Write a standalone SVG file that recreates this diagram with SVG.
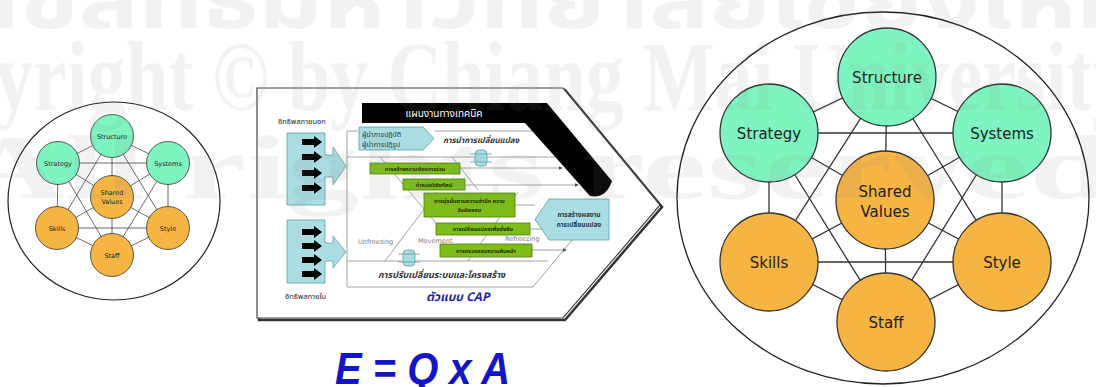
<svg xmlns="http://www.w3.org/2000/svg" width="1096" height="387" viewBox="0 0 1096 387">
<defs>
<style>
.s7l{stroke:#333;stroke-width:1.3;fill:none}
.s7s{stroke:#444;stroke-width:0.8;fill:none}
.g{fill:#7ef5c0;stroke:#333;stroke-width:1.3}
.o{fill:#f6b443;stroke:#333;stroke-width:1.3}
.gs{fill:#7ef5c0;stroke:#333;stroke-width:0.8}
.os{fill:#f6b443;stroke:#333;stroke-width:0.8}
.tl{font-family:"DejaVu Sans",sans-serif;font-size:15px;fill:#222;text-anchor:middle}
.ts{font-family:"DejaVu Sans",sans-serif;font-size:6.5px;fill:#222;text-anchor:middle}
.th{font-family:"Noto Sans Thai","Loma","Garuda","Tahoma","DejaVu Sans",sans-serif}
.gb{fill:#7cbd1a;stroke:#4f7d0c;stroke-width:0.8}
.gt{font-size:5.5px;font-weight:bold;fill:#1c2a00;text-anchor:middle}
.bl{fill:#a9dde2;stroke:#5a9ea8;stroke-width:0.8}
.ln{stroke:#8a8a8a;stroke-width:0.8;fill:none}
.ph{font-family:"DejaVu Sans",sans-serif;font-size:6.5px;fill:#777}
.wm{font-family:"Liberation Serif",serif;font-weight:bold;fill:#8c8c8c;opacity:0.1}
</style>
<marker id="ah" viewBox="0 0 6 6" refX="5" refY="3" markerWidth="4" markerHeight="4" markerUnits="userSpaceOnUse" orient="auto">
<path d="M0,0 L6,3 L0,6 Z" fill="#444"/>
</marker>
<g id="spool">
<rect x="-6" y="-8" width="12" height="16" rx="4" fill="#a9dde2" stroke="#5a9ea8" stroke-width="0.8"/>
<path d="M-11,-4 H11 M-11,4 H11" stroke="#5a9ea8" stroke-width="0.8"/>
</g>
<path id="barrow" d="M0,-3 H12 V-6 L20,0 L12,6 V3 H0 Z" fill="#000"/>
</defs>
<rect width="1096" height="387" fill="#fff"/>

<!-- Small 7S -->
<g id="small-7s">
<ellipse cx="114" cy="201" rx="106" ry="99" fill="#fff" stroke="#222" stroke-width="1.2"/>
<g id="small-connectors" class="s7s">
<path d="M112,136 L168,163 L168,228 L112,255 L57,228 L58,163 Z"/>
<path d="M58,163 L168,163 L112,255 Z"/>
<path d="M112,136 L168,228 L57,228 Z"/>
<path d="M112,197 L112,136 M112,197 L58,163 M112,197 L168,163 M112,197 L57,228 M112,197 L168,228 M112,197 L112,255"/>
</g>
<g id="s-structure"><circle class="gs" cx="112" cy="136" r="21.5"/><text class="ts" x="112" y="138.5">Structure</text></g>
<g id="s-strategy"><circle class="gs" cx="58" cy="163" r="21.5"/><text class="ts" x="58" y="165.5">Strategy</text></g>
<g id="s-systems"><circle class="gs" cx="168" cy="163" r="21.5"/><text class="ts" x="168" y="165.5">Systems</text></g>
<g id="s-shared"><circle class="os" cx="112" cy="197" r="21.5"/><text class="ts" x="112" y="194.5">Shared</text><text class="ts" x="112" y="203.5">Values</text></g>
<g id="s-skills"><circle class="os" cx="57" cy="228" r="21.5"/><text class="ts" x="57" y="230.5">Skills</text></g>
<g id="s-style"><circle class="os" cx="168" cy="228" r="21.5"/><text class="ts" x="168" y="230.5">Style</text></g>
<g id="s-staff"><circle class="os" cx="112" cy="255" r="21.5"/><text class="ts" x="112" y="257.5">Staff</text></g>
</g>

<!-- CAP model -->
<g id="cap-model">
<polygon points="259,90 565,90 662,207 565,320 259,320" fill="none" stroke="#333" stroke-width="2.5"/>
<polygon points="257,88 563,88 660,205 563,318 257,318" fill="#fff" stroke="#444" stroke-width="1.2"/>
<g id="cap-lines" class="ln">
<path d="M358,131 H347 V287 H533 L572,240"/>
<path d="M347,261 H548"/>
<path d="M347,157 H555"/>
<path d="M435,131 H532"/>
<path d="M380,157 L436,223"/>
<path d="M452,157 L478,190"/>
<path d="M385,261 L437,192"/>
<path d="M468,261 L518,192"/>
<path d="M460,168 H562" marker-end="url(#ah)"/>
<path d="M465,185 H578" marker-end="url(#ah)"/>
<path d="M515,205 H535"/>
<path d="M530,229 H543"/>
<path d="M532,250 H566" marker-end="url(#ah)"/>
</g>
<path id="tech-plan" d="M362,103 H547 L612,181 Q606,199 590,196 L525,123 H362 Z" fill="#000"/>
<text class="th" x="444" y="117" font-size="10" fill="#fff" text-anchor="middle">แผนงานทางเทคนิค</text>

<g id="ext-influence">
<path class="bl" d="M287,133 H325 V155 H333 V147 L346,166 L333,185 V177 H325 V205 H287 Z"/>
<use href="#barrow" x="302" y="142"/>
<use href="#barrow" x="302" y="157"/>
<use href="#barrow" x="302" y="173"/>
<use href="#barrow" x="302" y="188"/>
<text class="th" x="278" y="124" font-size="7.5" fill="#222">อิทธิพลภายนอก</text>
</g>
<g id="int-influence">
<path class="bl" d="M287,220 H325 V243 H333 V236 L346,252 L333,268 V261 H325 V283 H287 Z"/>
<use href="#barrow" x="302" y="232"/>
<use href="#barrow" x="302" y="246"/>
<use href="#barrow" x="302" y="260"/>
<use href="#barrow" x="302" y="274"/>
<text class="th" x="285" y="299" font-size="7.5" fill="#222">อิทธิพลภายใน</text>
</g>

<g id="leaders">
<path class="bl" d="M359,127 H423 L434,138.5 L423,150 H359 Z"/>
<text class="th" x="362" y="136.5" font-size="7" fill="#1b3a4a">ผู้นำการปฏิบัติ</text>
<text class="th" x="362" y="146.5" font-size="7" fill="#1b3a4a">ผู้นำการปฏิรูป</text>
</g>
<text class="th" x="443" y="143" font-size="8" font-style="italic" font-weight="bold" fill="#333">การนำการเปลี่ยนแปลง</text>
<use href="#spool" x="481" y="158"/>
<use href="#spool" x="409" y="258"/>

<g id="box1"><rect class="gb" x="370" y="163" width="90" height="11"/><text class="th gt" x="415" y="170.5">การสร้างความต้องการร่วม</text></g>
<g id="box2"><rect class="gb" x="403" y="179" width="62" height="11"/><text class="th gt" x="434" y="186.5">กำหนดวิสัยทัศน์</text></g>
<g id="box3"><rect class="gb" x="424" y="193" width="91" height="24"/><text class="th gt" x="469.5" y="203">การมุ่งมั่นตามความสำนึก ความ</text><text class="th gt" x="469.5" y="212">รับผิดชอบ</text></g>
<g id="box4"><rect class="gb" x="436" y="223" width="94" height="12"/><text class="th gt" x="483" y="231">การเปลี่ยนแปลงเพื่อยั่งยืน</text></g>
<g id="box5"><rect class="gb" x="440" y="244" width="92" height="13"/><text class="th gt" x="486" y="252.5">การตรวจสอบความคืบหน้า</text></g>

<g id="result">
<path class="bl" d="M535,219.5 L549,199 H609 V240 H549 Z"/>
<text class="th" x="579" y="217" font-size="6.5" font-weight="bold" fill="#1b3a4a" text-anchor="middle">การสร้างผลงาน</text>
<text class="th" x="579" y="227" font-size="6.5" font-weight="bold" fill="#1b3a4a" text-anchor="middle">การเปลี่ยนแปลง</text>
</g>

<text class="ph" x="358" y="244">Unfreezing</text>
<text class="ph" x="418" y="243">Movement</text>
<text class="ph" x="505" y="241">Refreezing</text>
<text class="th" x="378" y="278" font-size="9" font-style="italic" font-weight="bold" fill="#333">การปรับเปลี่ยนระบบและโครงสร้าง</text>
<text x="426" y="301" font-family="Noto Sans Thai,Loma,Garuda,Tahoma,Liberation Sans,sans-serif" font-size="12" font-style="italic" font-weight="bold" fill="#2323a8">ตัวแบบ CAP</text>
</g>

<text id="formula" x="335" y="384" font-family="Liberation Sans,Arial,sans-serif" font-size="44" font-weight="bold" font-style="italic" fill="#1515c8" textLength="175" lengthAdjust="spacingAndGlyphs">E = Q x A</text>

<!-- Large 7S -->
<g id="large-7s">
<ellipse cx="883" cy="198" rx="206" ry="186" fill="#fff" stroke="#222" stroke-width="1.3"/>
<g id="large-connectors" class="s7l">
<path d="M887,77 L1002,133 L1002,262 L886,322 L769,262 L769,133 Z"/>
<path d="M769,133 L1002,133 L886,322 Z"/>
<path d="M887,77 L1002,262 L769,262 Z"/>
<path d="M885,200 L887,77 M885,200 L769,133 M885,200 L1002,133 M885,200 L769,262 M885,200 L1002,262 M885,200 L886,322"/>
</g>
<g id="structure"><circle class="g" cx="887" cy="77" r="49"/><text class="tl" x="887" y="83">Structure</text></g>
<g id="strategy"><circle class="g" cx="769" cy="133" r="49"/><text class="tl" x="769" y="139">Strategy</text></g>
<g id="systems"><circle class="g" cx="1002" cy="133" r="49"/><text class="tl" x="1002" y="139">Systems</text></g>
<g id="shared-values"><circle class="o" cx="885" cy="200" r="49"/><text class="tl" x="885" y="197">Shared</text><text class="tl" x="885" y="217">Values</text></g>
<g id="skills"><circle class="o" cx="769" cy="262" r="49"/><text class="tl" x="769" y="268">Skills</text></g>
<g id="style"><circle class="o" cx="1002" cy="262" r="49"/><text class="tl" x="1002" y="268">Style</text></g>
<g id="staff"><circle class="o" cx="886" cy="322" r="49"/><text class="tl" x="886" y="328">Staff</text></g>
</g>

<!-- watermark -->
<g id="watermark">
<text class="th" x="-40" y="28" font-size="80" font-weight="bold" fill="#8c8c8c" opacity="0.1" textLength="1180" lengthAdjust="spacingAndGlyphs">ลิขสิทธิ์มหาวิทยาลัยเชียงใหม่</text>
<text class="wm" x="-140" y="110" font-size="100" textLength="1270" lengthAdjust="spacingAndGlyphs">Copyright © by Chiang Mai University</text>
<text class="wm" x="-40" y="198" font-size="90" textLength="1150" lengthAdjust="spacingAndGlyphs">All rights reserved</text>
</g>
</svg>
